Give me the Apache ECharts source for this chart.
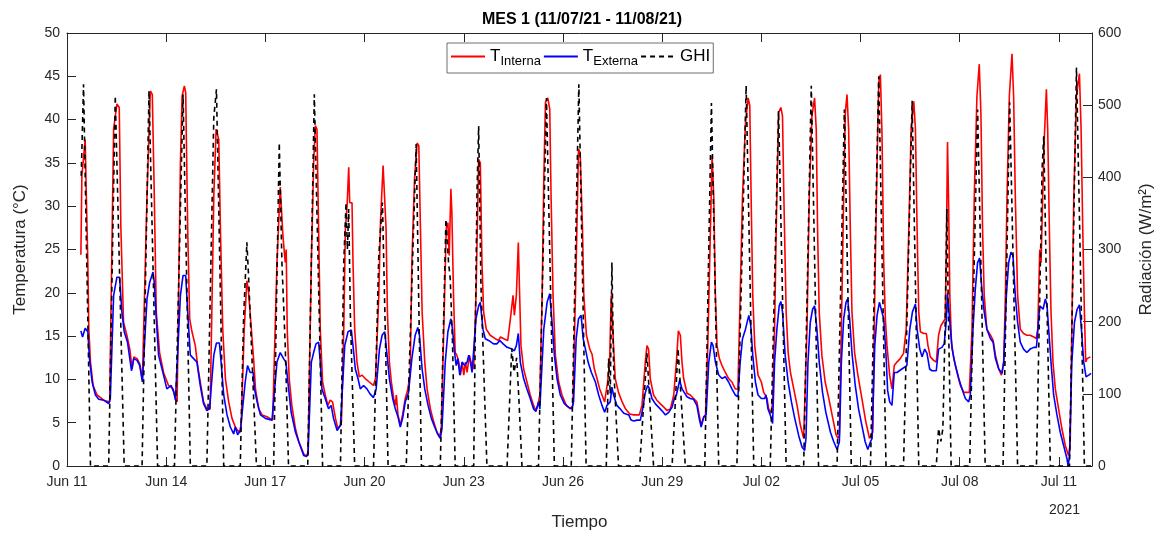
<!DOCTYPE html>
<html>
<head>
<meta charset="utf-8">
<script src="https://cdn.jsdelivr.net/npm/echarts@6/dist/echarts.min.js"></script>
<style>
  html, body { margin: 0; padding: 0; background: #fff; }
  #chart { width: 1164px; height: 536px; }
</style>
</head>
<body>
<div id="chart"></div>
<script>
// x = days since Jun 11 2021 00:00
const startDate = [2021, 5, 11];
const monthNames = ['Jan', 'Feb', 'Mar', 'Apr', 'May', 'Jun', 'Jul', 'Aug', 'Sep', 'Oct', 'Nov', 'Dec'];
const yearLabel = '2021';
const seriesNames = ['T_Interna', 'T_Externa', 'GHI'];

// [day, °C]
const tInterna = [
  [0.42,24.4],[0.45,33.5],[0.55,37.7],[0.58,32.0],[0.63,23.5],[0.66,15.8],[0.71,12.0],[0.79,9.3],[0.91,8.2],[1.11,7.6],[1.29,7.4],
  [1.41,38.9],[1.51,41.8],[1.58,41.4],[1.63,27.4],[1.71,16.6],[1.81,15.1],[1.90,13.5],[1.97,11.2],[2.02,12.6],[2.12,12.4],[2.20,11.8],[2.28,9.9],
  [2.32,9.7],[2.42,31.2],[2.52,43.3],[2.58,42.9],[2.64,31.2],[2.70,17.8],[2.80,13.1],[2.92,10.8],[3.07,9.3],[3.21,8.9],[3.28,7.8],
  [3.33,7.4],[3.43,35.0],[3.48,42.7],[3.55,43.9],[3.59,43.1],[3.65,27.4],[3.71,17.0],[3.78,15.5],[3.88,13.9],[3.95,11.6],[4.03,9.7],[4.13,7.4],[4.23,6.6],
  [4.33,6.6],[4.44,31.2],[4.51,38.9],[4.59,37.7],[4.64,27.4],[4.71,15.8],[4.79,10.1],[4.89,7.4],[4.99,5.5],[5.09,4.5],[5.16,4.1],[5.24,3.9],
  [5.27,5.1],[5.36,15.8],[5.44,21.4],[5.49,20.1],[5.56,16.6],[5.60,16.6],[5.65,12.0],[5.70,8.9],[5.80,6.6],[5.90,5.9],[6.05,5.7],[6.22,5.3],
  [6.35,23.5],[6.45,32.2],[6.53,26.6],[6.60,23.5],[6.63,25.0],[6.66,15.8],[6.72,10.1],[6.80,7.0],[6.91,4.3],[7.01,2.8],[7.16,1.4],[7.24,1.1],[7.29,1.6],
  [7.39,23.5],[7.46,35.0],[7.51,39.3],[7.56,38.9],[7.61,27.4],[7.66,15.8],[7.73,9.7],[7.81,8.2],[7.89,7.0],[7.96,7.6],[8.03,7.4],[8.12,5.5],[8.19,4.3],[8.27,4.7],
  [8.30,5.1],[8.37,15.8],[8.42,27.4],[8.47,30.0],[8.52,34.5],[8.55,30.4],[8.62,30.4],[8.65,23.5],[8.70,15.8],[8.77,12.0],[8.84,10.3],[8.92,10.5],[9.02,10.1],[9.14,9.7],[9.27,9.3],[9.33,10.1],
  [9.43,19.7],[9.48,28.1],[9.56,34.7],[9.61,34.7],[9.65,27.4],[9.69,17.8],[9.75,12.0],[9.81,9.7],[9.88,7.8],[9.93,7.0],[9.96,8.2],[10.01,5.9],[10.08,4.7],[10.15,5.9],[10.23,7.8],[10.31,8.9],[10.38,10.8],
  [10.43,23.5],[10.51,33.1],[10.59,37.3],[10.64,37.0],[10.69,27.4],[10.74,17.8],[10.82,12.0],[10.89,8.9],[10.99,6.6],[11.09,5.1],[11.19,3.9],[11.27,3.4],[11.32,4.3],
  [11.42,19.7],[11.47,27.4],[11.52,28.1],[11.56,24.3],[11.61,32.0],[11.64,29.3],[11.69,19.7],[11.74,13.1],[11.79,12.8],[11.85,12.0],[11.90,10.5],[11.95,12.0],[12.00,10.5],[12.05,12.0],[12.10,10.8],[12.17,12.8],[12.22,12.0],[12.30,11.2],[12.37,19.7],
  [12.45,35.4],[12.50,35.0],[12.55,23.5],[12.60,17.8],[12.68,15.8],[12.80,15.1],[12.95,14.7],[13.06,14.5],[13.11,14.9],[13.21,14.7],[13.33,14.5],[13.41,17.0],[13.49,19.7],[13.53,17.4],[13.59,19.7],[13.65,25.8],[13.69,19.7],[13.73,13.9],[13.81,11.2],[13.91,9.7],[14.01,8.2],[14.11,7.0],[14.18,6.4],[14.24,7.0],[14.30,8.2],
  [14.37,19.7],[14.42,33.1],[14.47,42.0],[14.54,42.5],[14.60,41.2],[14.64,31.2],[14.70,19.7],[14.77,12.8],[14.87,9.7],[14.97,8.2],[15.10,7.0],[15.22,6.6],[15.30,7.0],
  [15.40,23.5],[15.47,36.6],[15.52,36.2],[15.59,27.4],[15.63,19.7],[15.71,15.1],[15.81,13.5],[15.88,12.9],[15.95,11.2],[16.03,10.1],[16.11,8.9],[16.18,8.2],[16.26,7.4],
  [16.35,9.7],[16.41,12.0],[16.46,19.7],[16.50,19.7],[16.53,13.9],[16.58,10.1],[16.68,8.5],[16.79,7.4],[16.89,6.6],[17.02,6.0],[17.14,5.9],[17.31,5.9],[17.39,7.0],
  [17.49,12.0],[17.54,13.9],[17.59,13.5],[17.64,10.1],[17.74,8.2],[17.84,7.6],[17.94,7.2],[18.05,6.8],[18.15,6.4],[18.25,6.6],[18.35,8.2],
  [18.43,12.0],[18.49,15.6],[18.55,15.1],[18.60,12.0],[18.65,10.1],[18.75,8.4],[18.85,8.2],[18.95,7.8],[19.05,7.4],[19.12,5.9],[19.18,4.7],[19.24,5.5],[19.31,5.9],
  [19.38,13.9],[19.46,27.4],[19.51,35.8],[19.56,31.2],[19.61,19.7],[19.66,13.9],[19.73,12.4],[19.81,11.6],[19.91,10.8],[20.01,10.1],[20.11,9.7],[20.21,8.9],[20.29,8.9],
  [20.36,19.7],[20.43,31.2],[20.52,39.6],[20.60,42.5],[20.65,41.6],[20.69,31.2],[20.74,19.7],[20.80,13.9],[20.90,10.5],[21.00,9.7],[21.07,8.5],[21.12,8.2],[21.17,7.8],[21.22,6.6],[21.30,6.1],[21.34,7.4],
  [21.40,15.8],[21.45,27.4],[21.52,40.8],[21.59,41.4],[21.64,40.4],[21.68,31.2],[21.75,17.8],[21.81,13.1],[21.88,10.8],[21.98,8.9],[22.08,7.0],[22.18,4.7],[22.28,3.2],[22.33,3.4],
  [22.38,15.8],[22.45,31.2],[22.53,40.4],[22.61,42.5],[22.66,38.9],[22.70,27.4],[22.75,17.8],[22.83,12.8],[22.93,9.7],[23.04,7.8],[23.16,5.5],[23.26,3.6],[23.32,3.2],[23.36,3.6],
  [23.42,15.8],[23.49,31.2],[23.54,40.8],[23.59,42.9],[23.64,38.9],[23.69,27.4],[23.74,17.8],[23.82,13.1],[23.92,10.5],[24.04,7.8],[24.16,5.1],[24.27,3.2],[24.33,3.0],[24.37,3.9],
  [24.43,19.7],[24.50,35.0],[24.55,44.3],[24.60,45.2],[24.65,38.1],[24.70,23.5],[24.75,17.0],[24.80,13.9],[24.88,10.5],[24.95,8.9],
  [25.02,11.6],[25.10,12.0],[25.20,12.4],[25.30,13.0],[25.38,15.8],[25.46,27.4],[25.53,38.9],[25.61,42.1],[25.66,38.9],[25.71,27.4],[25.76,17.8],[25.81,15.5],[25.91,15.3],[25.99,15.3],[26.04,13.9],[26.11,12.6],[26.21,12.2],[26.29,12.0],
  [26.36,15.1],[26.43,16.2],[26.49,16.0],[26.56,17.0],[26.59,23.5],[26.63,37.4],[26.66,31.2],[26.70,19.7],[26.75,14.3],[26.82,12.4],[26.92,10.8],[27.02,9.3],[27.12,8.5],[27.22,8.5],[27.29,8.5],
  [27.37,15.8],[27.44,31.2],[27.52,42.7],[27.59,46.4],[27.64,40.8],[27.69,27.4],[27.74,19.7],[27.82,15.8],[27.93,15.1],[28.01,14.5],[28.08,12.8],[28.18,11.2],[28.26,10.5],[28.33,12.0],
  [28.38,19.7],[28.43,31.2],[28.50,42.7],[28.58,47.6],[28.63,42.7],[28.68,31.2],[28.75,19.7],[28.83,15.8],[28.93,15.3],[29.03,15.1],[29.13,15.1],[29.24,14.9],[29.31,14.7],[29.36,15.8],
  [29.42,25.0],[29.46,23.5],[29.51,31.2],[29.56,38.1],[29.62,43.5],[29.66,38.9],[29.71,27.4],[29.76,17.8],[29.82,12.0],[29.89,8.9],[29.99,6.6],[30.09,4.3],[30.19,2.4],[30.29,1.2],[30.34,2.4],
  [30.39,15.8],[30.45,31.2],[30.53,42.7],[30.62,45.3],[30.67,38.9],[30.72,27.4],[30.77,17.8],[30.81,12.0],[30.85,12.4],[30.90,12.6],[30.95,12.6]
];

// [day, °C]
const tExterna = [
  [0.42,15.6],[0.47,14.9],[0.55,15.9],[0.63,15.5],[0.68,12.4],[0.76,9.7],[0.86,8.2],[0.96,7.7],[1.11,7.6],[1.26,7.2],
  [1.31,7.8],[1.41,19.7],[1.51,21.8],[1.59,21.8],[1.66,17.8],[1.73,15.5],[1.83,14.3],[1.95,11.0],[2.02,12.4],[2.12,12.2],[2.20,11.6],[2.28,9.7],
  [2.32,9.7],[2.42,19.3],[2.50,21.2],[2.60,22.4],[2.64,21.2],[2.70,17.0],[2.77,12.8],[2.92,10.5],[3.02,8.9],[3.15,9.3],[3.23,8.5],[3.28,7.6],
  [3.33,7.8],[3.43,19.7],[3.51,22.0],[3.59,22.0],[3.65,17.8],[3.73,12.8],[3.83,12.4],[3.93,12.0],[4.03,9.3],[4.13,7.2],[4.23,6.4],[4.31,6.6],
  [4.33,6.6],[4.44,12.8],[4.52,14.2],[4.61,14.2],[4.66,12.0],[4.74,8.2],[4.84,5.9],[4.94,4.5],[5.04,3.7],[5.09,4.5],[5.16,3.6],[5.24,4.1],
  [5.27,5.1],[5.39,9.7],[5.46,11.6],[5.54,10.8],[5.63,10.8],[5.67,8.9],[5.75,7.4],[5.85,5.9],[6.00,5.5],[6.20,5.3],[6.25,5.1],
  [6.35,12.0],[6.45,13.1],[6.55,12.4],[6.62,12.0],[6.68,9.7],[6.78,6.2],[6.91,3.9],[7.01,2.8],[7.16,1.2],[7.24,1.1],[7.29,1.4],
  [7.31,1.6],[7.39,12.0],[7.46,13.1],[7.53,14.1],[7.61,14.3],[7.66,12.0],[7.71,8.9],[7.81,7.8],[7.91,6.6],[7.99,7.0],[8.06,5.5],[8.17,4.1],[8.27,4.7],
  [8.30,4.7],[8.40,13.9],[8.50,15.5],[8.60,15.7],[8.65,13.9],[8.72,11.2],[8.80,10.1],[8.87,8.9],[8.97,9.3],[9.07,8.9],[9.17,8.3],[9.27,7.9],[9.35,8.9],
  [9.45,13.5],[9.53,15.1],[9.61,15.5],[9.68,12.8],[9.75,10.1],[9.85,7.8],[9.93,6.6],[10.01,5.7],[10.08,4.5],[10.15,5.5],[10.23,7.4],[10.33,8.5],[10.38,10.5],
  [10.43,12.4],[10.53,15.1],[10.61,16.0],[10.66,15.1],[10.74,11.2],[10.82,8.9],[10.92,7.0],[11.02,5.5],[11.12,4.5],[11.21,3.7],[11.29,3.2],[11.34,4.3],
  [11.44,12.0],[11.52,15.5],[11.61,17.0],[11.66,15.8],[11.71,13.5],[11.77,11.6],[11.82,12.4],[11.88,10.5],[11.95,12.0],[12.03,11.6],[12.10,12.0],[12.15,12.8],[12.20,12.0],[12.25,10.8],[12.30,11.0],[12.37,17.0],
  [12.45,18.5],[12.50,18.9],[12.58,15.8],[12.65,14.7],[12.75,14.5],[12.90,14.1],[13.00,14.1],[13.09,14.5],[13.19,14.1],[13.31,13.7],[13.46,13.5],[13.53,13.3],[13.59,13.9],[13.65,15.3],[13.71,12.0],[13.81,10.1],[13.91,8.9],[14.01,7.8],[14.11,6.6],[14.18,6.3],[14.26,7.4],
  [14.30,6.6],[14.37,12.0],[14.42,15.8],[14.52,18.9],[14.60,19.9],[14.67,16.6],[14.74,12.8],[14.82,10.1],[14.92,8.2],[15.04,7.2],[15.17,6.8],[15.27,6.6],[15.32,7.4],
  [15.40,14.7],[15.47,17.0],[15.55,17.4],[15.61,14.7],[15.68,13.5],[15.76,12.0],[15.86,10.8],[15.98,9.7],[16.08,8.2],[16.18,7.0],[16.26,6.2],[16.33,7.0],
  [16.43,7.4],[16.48,9.1],[16.53,8.2],[16.63,7.0],[16.73,6.6],[16.84,6.1],[16.99,5.9],[17.06,5.3],[17.14,5.2],[17.24,5.3],[17.34,5.3],[17.41,6.6],
  [17.49,8.5],[17.56,9.3],[17.62,8.9],[17.69,7.8],[17.79,7.2],[17.89,6.8],[17.99,6.4],[18.10,5.9],[18.20,6.2],[18.30,6.8],[18.37,7.8],
  [18.43,8.2],[18.53,9.9],[18.60,8.9],[18.65,8.9],[18.75,8.0],[18.85,7.8],[18.95,7.7],[19.05,7.0],[19.12,5.5],[19.18,4.5],[19.26,5.7],[19.33,5.9],
  [19.41,12.0],[19.49,14.3],[19.54,13.9],[19.61,12.0],[19.71,10.5],[19.81,10.1],[19.91,10.3],[20.01,9.7],[20.11,8.9],[20.21,8.2],[20.29,8.0],
  [20.36,12.0],[20.43,14.7],[20.52,15.8],[20.62,17.4],[20.68,16.2],[20.74,12.8],[20.82,9.7],[20.90,8.2],[21.00,7.8],[21.10,7.8],[21.14,8.2],[21.20,6.6],[21.27,5.9],[21.34,4.9],
  [21.40,12.0],[21.47,15.8],[21.54,18.5],[21.59,19.0],[21.64,17.8],[21.72,12.8],[21.81,9.7],[21.91,7.4],[22.01,5.5],[22.13,3.5],[22.23,2.2],[22.31,1.8],[22.35,3.2],
  [22.41,12.0],[22.48,16.6],[22.55,18.1],[22.61,18.5],[22.68,15.8],[22.75,12.0],[22.85,8.5],[22.95,6.2],[23.09,3.9],[23.19,2.8],[23.29,1.9],[23.36,2.8],
  [23.42,12.0],[23.49,17.0],[23.56,18.9],[23.61,19.3],[23.67,17.0],[23.74,13.1],[23.84,9.3],[23.94,6.6],[24.04,4.7],[24.14,2.8],[24.22,1.9],[24.30,2.8],[24.35,3.2],
  [24.43,13.9],[24.50,17.4],[24.57,18.9],[24.63,19.1],[24.70,17.0],[24.77,12.8],[24.82,8.7],[24.88,7.4],[24.95,7.0],
  [25.02,10.8],[25.10,10.8],[25.25,11.2],[25.40,11.6],[25.49,15.8],[25.57,17.8],[25.66,18.7],[25.71,15.8],[25.79,13.5],[25.86,12.6],[25.94,13.5],[26.01,13.0],[26.09,11.2],[26.16,11.0],[26.29,11.0],
  [26.36,13.5],[26.46,13.7],[26.53,14.1],[26.59,16.6],[26.63,19.9],[26.70,16.6],[26.77,13.5],[26.87,11.6],[26.97,10.1],[27.07,8.9],[27.17,7.8],[27.27,7.4],[27.32,8.2],
  [27.40,15.8],[27.47,20.4],[27.54,23.5],[27.60,24.0],[27.67,20.4],[27.74,17.8],[27.82,15.8],[27.93,14.7],[28.01,14.3],[28.08,12.4],[28.18,11.2],[28.28,10.7],[28.33,12.0],
  [28.41,19.7],[28.48,23.5],[28.55,24.7],[28.61,24.3],[28.68,19.7],[28.75,16.6],[28.83,14.3],[28.93,13.5],[29.03,13.1],[29.13,13.5],[29.24,13.7],[29.32,13.7],
  [29.36,13.9],[29.42,18.5],[29.46,18.7],[29.52,18.1],[29.59,19.3],[29.64,18.5],[29.69,15.8],[29.76,12.0],[29.84,8.2],[29.94,5.9],[30.04,3.9],[30.14,2.4],[30.24,0.9],[30.28,0.0],[30.32,1.2],
  [30.39,12.0],[30.47,16.6],[30.55,18.1],[30.62,18.6],[30.68,15.8],[30.75,12.0],[30.82,10.3],[30.90,10.5],[30.97,10.7]
];

// [day, W/m²]
const ghi = [
  [0.43,402],[0.50,529],[0.71,0],
  [1.26,0],[1.46,513],[1.73,0],
  [2.27,0],[2.48,520],[2.74,0],
  [3.25,0],[3.51,515],[3.73,0],
  [4.23,0],[4.44,483],[4.52,522],[4.74,0],
  [5.24,0],[5.34,204],[5.44,310],[5.49,264],[5.73,0],
  [6.25,0],[6.42,448],[6.50,282],[6.60,167],[6.70,0],
  [7.28,0],[7.48,515],[7.73,0],
  [8.27,0],[8.37,282],[8.44,365],[8.48,300],[8.52,356],[8.57,210],[8.70,0],
  [9.27,0],[9.43,292],[9.51,347],[9.54,365],[9.62,200],[9.71,0],
  [10.26,0],[10.56,446],[10.72,0],
  [11.29,0],[11.46,342],[11.54,282],[11.59,260],[11.66,170],[11.74,0],
  [12.30,0],[12.40,380],[12.45,471],[12.52,250],[12.70,0],
  [13.31,0],[13.45,163],[13.52,130],[13.60,150],[13.67,90],[13.76,0],
  [14.26,0],[14.50,510],[14.74,0],
  [15.25,0],[15.48,529],[15.70,0],
  [16.31,0],[16.38,149],[16.43,100],[16.48,282],[16.53,140],[16.68,0],
  [17.32,0],[17.54,156],[17.74,0],
  [18.30,0],[18.48,163],[18.70,0],
  [19.29,0],[19.49,503],[19.71,0],
  [20.26,0],[20.54,527],[20.77,0],
  [21.27,0],[21.52,492],[21.75,0],
  [22.28,0],[22.51,527],[22.73,0],
  [23.29,0],[23.51,494],[23.72,0],
  [24.30,0],[24.55,540],[24.77,0],
  [25.30,0],[25.56,506],[25.76,0],
  [26.29,0],[26.36,52],[26.43,34],[26.49,52],[26.56,200],[26.61,356],[26.66,200],[26.74,0],
  [27.30,0],[27.54,494],[27.77,0],
  [28.31,0],[28.51,504],[28.75,0],
  [29.32,0],[29.44,282],[29.49,411],[29.54,457],[29.61,282],[29.74,0],
  [30.32,0],[30.53,552],[30.77,0],[30.97,0]
];

const FONT = '"Liberation Sans", Arial, sans-serif';
const AXIS_COLOR = '#262626';

function dayLabel(v) {
  const d = new Date(startDate[0], startDate[1], startDate[2] + Math.round(v));
  const dd = d.getDate();
  return monthNames[d.getMonth()] + ' ' + (dd < 10 ? '0' + dd : dd);
}

// onZero off, otherwise the right axis jumps to x = 0
const axisLine = { show: true, onZero: false, lineStyle: { color: AXIS_COLOR, width: 1 } };
const axisTick = { show: true, inside: true, length: 9, lineStyle: { color: AXIS_COLOR, width: 1 } };

const chart = echarts.init(document.getElementById('chart'), null, { renderer: 'canvas' });

const option = {
  animation: false,
  textStyle: { fontFamily: FONT },
  title: {
    text: 'MES 1 (11/07/21 - 11/08/21)',
    left: 'center',
    top: 7,
    textStyle: { fontFamily: FONT, fontSize: 16, fontWeight: 'bold', color: '#000' }
  },
  grid: { left: 67, right: 72, top: 33, bottom: 69 },
  legend: {
    data: seriesNames,
    left: 447,
    top: 43,
    padding: [5, 3, 5, 3],
    itemGap: 2,
    itemWidth: 34,
    itemHeight: 14,
    backgroundColor: '#fff',
    borderColor: '#6e6e6e',
    borderWidth: 1,
    borderRadius: 0,
    itemStyle: { opacity: 0 },
    formatter: function (name) {
      if (name.indexOf('_') < 0) return '{a|' + name + '}';
      const p = name.split('_');
      return '{a|' + p[0] + '}{b|' + p[1] + '}';
    },
    textStyle: {
      color: '#000',
      rich: {
        a: { fontFamily: FONT, fontSize: 17, color: '#000' },
        b: { fontFamily: FONT, fontSize: 13, color: '#000', padding: [10, 0, 0, 0] }
      }
    }
  },
  xAxis: [
    {
      type: 'value', min: 0, max: 31, interval: 3, position: 'bottom',
      axisLine: axisLine, axisTick: axisTick, splitLine: { show: false },
      axisLabel: { formatter: dayLabel, color: AXIS_COLOR, fontSize: 14, margin: 9, showMaxLabel: false },
      name: 'Tiempo', nameLocation: 'middle', nameGap: 48,
      nameTextStyle: { fontSize: 17, color: AXIS_COLOR, fontFamily: FONT }
    },
    {
      type: 'value', min: 0, max: 31, interval: 3, position: 'top',
      axisLine: axisLine, axisTick: axisTick, splitLine: { show: false },
      axisLabel: { show: false }
    }
  ],
  yAxis: [
    {
      type: 'value', min: 0, max: 50, interval: 5, position: 'left',
      axisLine: axisLine, axisTick: axisTick, splitLine: { show: false },
      axisLabel: { color: AXIS_COLOR, fontSize: 14, margin: 7 },
      name: 'Temperatura (°C)', nameLocation: 'middle', nameGap: 38, nameRotate: 90,
      nameTextStyle: { fontSize: 17, color: AXIS_COLOR, fontFamily: FONT }
    },
    {
      type: 'value', min: 0, max: 600, interval: 100, position: 'right',
      axisLine: axisLine, axisTick: axisTick, splitLine: { show: false },
      axisLabel: { color: AXIS_COLOR, fontSize: 14, margin: 6 },
      name: 'Radiación (W/m²)', nameLocation: 'middle', nameGap: 46, nameRotate: 90,
      nameTextStyle: { fontSize: 17, color: AXIS_COLOR, fontFamily: FONT }
    }
  ],
  graphic: [
    {
      type: 'text', left: 1049, top: 503,
      style: { text: yearLabel, font: '14px ' + FONT, fill: AXIS_COLOR }
    }
  ],
  series: [
    {
      name: seriesNames[0], type: 'line', data: tInterna, xAxisIndex: 0, yAxisIndex: 0,
      symbol: 'none', lineStyle: { color: '#ff0000', width: 1.6 }, itemStyle: { color: '#ff0000' },
      emphasis: { disabled: true }, z: 2
    },
    {
      name: seriesNames[1], type: 'line', data: tExterna, xAxisIndex: 0, yAxisIndex: 0,
      symbol: 'none', lineStyle: { color: '#0000ff', width: 1.6 }, itemStyle: { color: '#0000ff' },
      emphasis: { disabled: true }, z: 3
    },
    {
      name: seriesNames[2], type: 'line', data: ghi, xAxisIndex: 0, yAxisIndex: 1,
      symbol: 'none', lineStyle: { color: '#000', width: 1.6, type: [5, 4] }, itemStyle: { color: '#000' },
      emphasis: { disabled: true }, z: 4
    }
  ]
};

chart.setOption(option);
</script>
</body>
</html>
